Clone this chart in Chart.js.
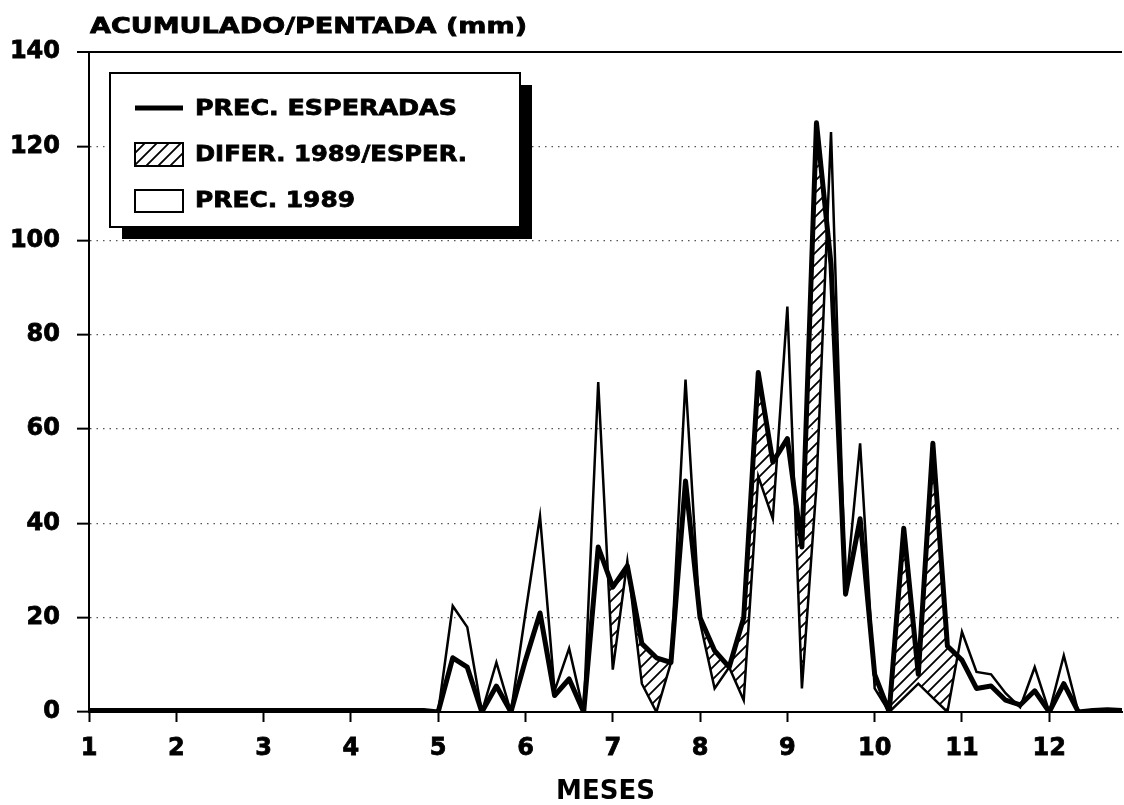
<!DOCTYPE html>
<html>
<head>
<meta charset="utf-8">
<script src="https://cdn.jsdelivr.net/npm/chart.js@4.4.0/dist/chart.umd.min.js"></script>
<style>
html,body{margin:0;padding:0;background:#fff;}
#wrap{width:1124px;height:805px;position:relative;}
canvas{display:block;}
</style>
</head>
<body>
<div id="wrap"><canvas id="c" width="1124" height="805" style="width:1124px;height:805px"></canvas></div>
<script>
// ---- Data (72 pentads, 6 per month) ----
const monthTicks = [1, 2, 3, 4, 5, 6, 7, 8, 9, 10, 11, 12];

const esperadas = [
  0.3, 0.3, 0.3, 0.3, 0.3, 0.3,      // month 1
  0.3, 0.3, 0.3, 0.3, 0.3, 0.3,      // month 2
  0.3, 0.3, 0.3, 0.3, 0.3, 0.3,      // month 3
  0.3, 0.3, 0.3, 0.3, 0.3, 0.3,      // month 4
  0, 11.5, 9.5, 0, 5.5, 0,           // month 5
  11, 21, 3.5, 7, 0, 35,             // month 6
  26.5, 31, 14.5, 11.5, 10.5, 49,    // month 7
  20, 13, 9.5, 20, 72, 53,           // month 8
  58, 35, 125, 95, 25, 41,           // month 9
  8, 0, 39, 8, 57, 14,               // month 10
  11, 5, 5.5, 2.5, 1.5, 4.5,         // month 11
  0, 6, 0, 0.3, 0.5, 0.3             // month 12
];

const prec1989 = [
  0, 0, 0, 0, 0, 0,
  0, 0, 0, 0, 0, 0,
  0, 0, 0, 0, 0, 0,
  0, 0, 0, 0, 0, 0,
  0, 22.5, 18, 0, 10.5, 0,
  21, 41.5, 4.5, 13.5, 0, 70,
  9, 32, 6, 0, 10.5, 70.5,
  19, 5, 9.5, 2.5, 50, 41,
  86, 5, 48, 123, 25, 57,
  5, 0, 3, 6, 3, 0,
  17, 8.5, 8, 4, 1, 9.5,
  0, 12, 0, 0.5, 0.5, 0.3
];

// pentad position on the month axis
const pentadX = esperadas.map((_, i) => 1 + i / 6);

const titleText = 'ACUMULADO/PENTADA (mm)';
const xAxisTitle = 'MESES';
const legendLabels = ['PREC. ESPERADAS', 'DIFER. 1989/ESPER.', 'PREC. 1989'];

const FONT = "'DejaVu Sans', 'Liberation Sans', Arial, sans-serif";

// ---- hatch pattern ----
const canvas = document.getElementById('c');
const mainCtx = canvas.getContext('2d');
function makeHatch() {
  const s = 12;
  const c = document.createElement('canvas');
  c.width = s; c.height = s;
  const g = c.getContext('2d');
  g.strokeStyle = '#000';
  g.lineWidth = 1.8;
  g.beginPath();
  g.moveTo(-2, s + 2); g.lineTo(s + 2, -2);
  g.moveTo(-s / 2 - 2, s / 2 + 2); g.lineTo(s / 2 + 2, -s / 2 - 2);
  g.moveTo(s / 2 - 2, 1.5 * s + 2); g.lineTo(1.5 * s + 2, s / 2 - 2);
  g.stroke();
  return mainCtx.createPattern(c, 'repeat');
}
const hatch = makeHatch();

function scaledText(ctx, text, x, baseline, font, targetW) {
  ctx.save();
  ctx.font = font;
  const w = ctx.measureText(text).width;
  ctx.translate(x, baseline);
  ctx.scale(targetW / w, 1);
  ctx.fillStyle = '#000';
  ctx.strokeStyle = '#000';
  ctx.lineWidth = 0.8;
  ctx.textAlign = 'left';
  ctx.textBaseline = 'alphabetic';
  ctx.fillText(text, 0, 0);
  ctx.strokeText(text, 0, 0);
  ctx.restore();
}

const decorPlugin = {
  id: 'decor',
  afterDraw(chart) {
    const ctx = chart.ctx;
    // title
    scaledText(ctx, titleText, 90, 33, 'bold 22px ' + FONT, 437);

    // legend box with drop shadow
    const bx = 110, by = 73, bw = 410, bh = 154;
    ctx.save();
    ctx.fillStyle = '#000';
    ctx.fillRect(bx + 12, by + 12, bw, bh);
    ctx.fillStyle = '#fff';
    ctx.fillRect(bx, by, bw, bh);
    ctx.strokeStyle = '#000';
    ctx.lineWidth = 2;
    ctx.strokeRect(bx, by, bw, bh);

    // symbol 1: thick line
    ctx.lineWidth = 5;
    ctx.beginPath();
    ctx.moveTo(135, 108); ctx.lineTo(183, 108);
    ctx.stroke();

    // symbol 2: hatched box
    ctx.fillStyle = hatch;
    ctx.fillRect(135, 143, 48, 23);
    ctx.lineWidth = 2;
    ctx.strokeRect(135, 143, 48, 23);

    // symbol 3: empty box
    ctx.strokeRect(135, 190, 48, 22);
    ctx.restore();

    scaledText(ctx, legendLabels[0], 195, 115, 'bold 22px ' + FONT, 262);
    scaledText(ctx, legendLabels[1], 195, 161, 'bold 22px ' + FONT, 272);
    scaledText(ctx, legendLabels[2], 195, 207, 'bold 22px ' + FONT, 160);
  }
};

const toXY = arr => arr.map((v, i) => ({ x: pentadX[i], y: v }));

new Chart(mainCtx, {
  type: 'line',
  data: {
    datasets: [
      {
        label: legendLabels[0],
        data: toXY(esperadas),
        borderColor: '#000',
        borderWidth: 5,
        pointRadius: 0,
        tension: 0,
        fill: false,
        borderJoinStyle: 'round'
      },
      {
        label: legendLabels[2],
        data: toXY(prec1989),
        borderColor: '#000',
        borderWidth: 2.5,
        pointRadius: 0,
        tension: 0,
        backgroundColor: hatch,
        fill: { target: 0, above: 'rgba(255,255,255,0)', below: hatch }
      }
    ]
  },
  options: {
    responsive: false,
    animation: false,
    devicePixelRatio: 1,
    layout: { padding: { top: 52, right: 2, left: 0, bottom: 0 } },
    plugins: {
      legend: { display: false },
      title: { display: false },
      tooltip: { enabled: false },
      filler: { propagate: false }
    },
    scales: {
      x: {
        type: 'linear',
        min: 1,
        max: 12 + 5 / 6,
        afterBuildTicks: s => { s.ticks = monthTicks.map(v => ({ value: v })); },
        afterFit: s => { s.height = 93; },
        ticks: {
          color: '#000',
          font: { family: FONT, size: 24, weight: 'bold' },
          padding: 12,
          maxRotation: 0,
          autoSkip: false,
          textStrokeColor: '#000',
          textStrokeWidth: 0.8,
          callback: v => String(v)
        },
        grid: {
          drawOnChartArea: false,
          drawTicks: true,
          tickLength: 10,
          tickColor: '#000',
          tickWidth: 2
        },
        border: { display: true, color: '#000', width: 2 },
        title: {
          display: true,
          text: xAxisTitle,
          color: '#000',
          font: { family: FONT, size: 26, weight: 'bold', lineHeight: 1 },
          padding: { top: 0, bottom: 0 }
        }
      },
      y: {
        min: 0,
        max: 140,
        afterFit: s => { s.width = 89; },
        ticks: {
          stepSize: 20,
          color: '#000',
          font: { family: FONT, size: 24, weight: 'bold' },
          padding: 17,
          textStrokeColor: '#000',
          textStrokeWidth: 0.8
        },
        grid: {
          color: c => (c.tick && (c.tick.value === 140 || c.tick.value === 0)) ? '#000' : '#555',
          lineWidth: c => (c.tick && c.tick.value === 140) ? 2 : 1.3,
          drawTicks: true,
          tickLength: 12,
          tickColor: '#000',
          tickWidth: 2
        },
        border: {
          display: true,
          color: '#000',
          width: 2,
          dash: c => (c.tick && c.tick.value !== 140 && c.tick.value !== 0) ? [1.5, 5] : []
        }
      }
    }
  },
  plugins: [decorPlugin]
});
</script>
</body>
</html>
